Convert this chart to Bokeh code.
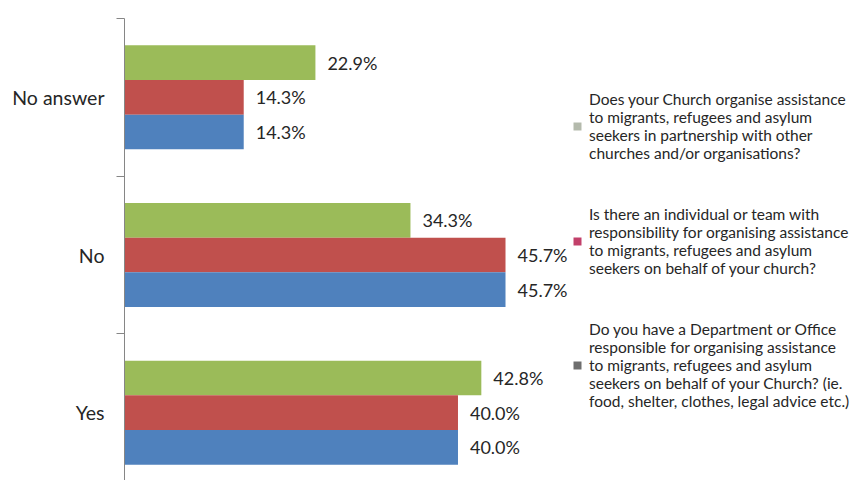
from bokeh.plotting import figure
from bokeh.models import Range1d, FixedTicker, Legend, LegendItem, ColumnDataSource
from bokeh.core.properties import value
from bokeh.transform import dodge
from bokeh.embed import file_html
from bokeh.resources import INLINE

categories = ["Yes", "No", "No answer"]
partnership = [42.8, 34.3, 22.9]
team = [40.0, 45.7, 14.3]
department = [40.0, 45.7, 14.3]
series_names = [
    "Does your Church organise assistance\nto migrants, refugees and asylum\nseekers in partnership with other\nchurches and/or organisations?",
    "Is there an individual or team with\nresponsibility for organising assistance\nto migrants, refugees and asylum\nseekers on behalf of your church?",
    "Do you have a Department or Office\nresponsible for organising assistance\nto migrants, refugees and asylum\nseekers on behalf of your Church? (ie.\nfood, shelter, clothes, legal advice etc.)",
]
bar_colors = ["#9BBB59", "#C0504D", "#4F81BD"]
legend_colors = ["#B4BAAC", "#C2406A", "#6E6E6E"]
offsets = [0.22, 0.0, -0.22]

FONT = "Lato"
TEXT_COLOR = "#262626"

pos = [i + 0.5 for i in range(len(categories))]

p = figure(width=851, height=480, output_backend="svg", toolbar_location=None,
           x_range=Range1d(0, 87.2), y_range=Range1d(0.07, 3.0),
           min_border_left=124, min_border_right=0, min_border_top=18, min_border_bottom=0)
p.outline_line_color = None
p.xgrid.visible = False
p.ygrid.visible = False
p.xaxis.visible = False

series = [partnership, team, department]
renderers = []
for vals, col, lcol, off in zip(series, bar_colors, legend_colors, offsets):
    src = ColumnDataSource(dict(pos=pos, val=vals, lbl=[f"{v:.1f}%" for v in vals]))
    p.hbar(y=dodge("pos", off), right="val", left=0, height=0.22, source=src,
           fill_color=col, line_color=None)
    p.text(x="val", y=dodge("pos", off), text="lbl", source=src, x_offset=12,
           text_baseline="middle", text_align="left", text_font=value(FONT),
           text_font_size="18px", text_color=TEXT_COLOR)
    r = p.scatter(x=[-1000], y=[-1000], marker="square", size=8,
                  fill_color=lcol, line_color=None)
    renderers.append(r)

ax = p.yaxis[0]
ax.ticker = FixedTicker(ticks=pos, minor_ticks=[0, 1, 2, 3])
ax.major_label_overrides = {pv: c for pv, c in zip(pos, categories)}
ax.major_tick_line_color = None
ax.major_tick_out = 0
ax.major_tick_in = 0
ax.minor_tick_out = 8
ax.minor_tick_in = 0
ax.minor_tick_line_color = "#868686"
ax.axis_line_color = "#868686"
ax.major_label_standoff = 12
ax.major_label_text_font = FONT
ax.major_label_text_font_size = "19.5px"
ax.major_label_text_color = TEXT_COLOR

legend = Legend(items=[LegendItem(label=n, renderers=[r]) for n, r in zip(series_names, renderers)],
                location=(443, 70), orientation="vertical")
legend.margin = 0
legend.padding = 0
legend.border_line_color = None
legend.background_fill_alpha = 0
legend.glyph_width = 20
legend.glyph_height = 20
legend.label_standoff = 2
legend.spacing = 43
legend.label_text_font = FONT
legend.label_text_font_size = "15.5px"
legend.label_text_color = TEXT_COLOR
p.add_layout(legend, "center")

open("out.html", "w").write(file_html(p, INLINE))
